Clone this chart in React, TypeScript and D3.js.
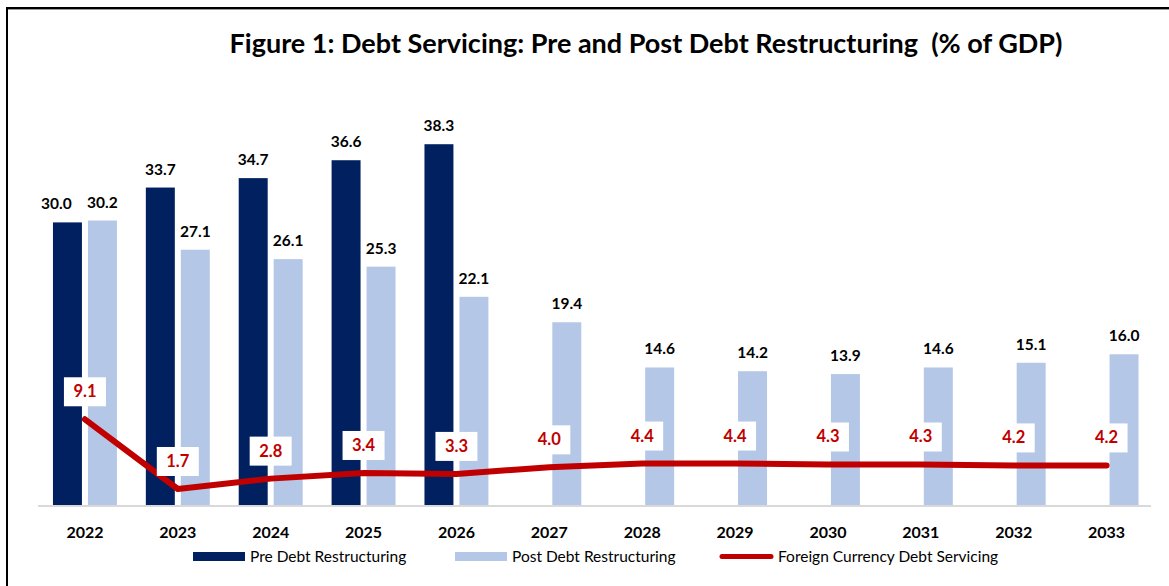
import React from 'react';
import * as d3 from 'd3';

const years = ['2022', '2023', '2024', '2025', '2026', '2027', '2028', '2029', '2030', '2031', '2032', '2033'];
const preValues: (number | null)[] = [30.0, 33.7, 34.7, 36.6, 38.3, null, null, null, null, null, null, null];
const postValues = [30.2, 27.1, 26.1, 25.3, 22.1, 19.4, 14.6, 14.2, 13.9, 14.6, 15.1, 16.0];
const fxValues = [9.1, 1.7, 2.8, 3.4, 3.3, 4.0, 4.4, 4.4, 4.3, 4.3, 4.2, 4.2];

const title = 'Figure 1: Debt Servicing: Pre and Post Debt Restructuring  (% of GDP)';
const seriesNames = ['Pre Debt Restructuring', 'Post Debt Restructuring', 'Foreign Currency Debt Servicing'];

const W = 1169;
const H = 586;
const PRE = '#002060';
const POST = '#B4C7E7';
const RED = '#C00000';
const FONT = 'Lato, "Open Sans", sans-serif';

export default function App() {
  const x = d3.scaleBand<string>().domain(years).range([38.5, 1153]).paddingInner(0).paddingOuter(0);
  const y = d3.scaleLinear().domain([0, 45]).range([505, 505 - 45 * 9.42]);
  const bw = x.bandwidth() * 0.312;
  const gap = 3;
  const cx = (yr: string) => (x(yr) as number) + x.bandwidth() / 2;

  const line = d3
    .line<number>()
    .x((_, i) => cx(years[i]))
    .y((d) => y(d));

  return (
    <svg width={W} height={H} style={{ position: 'absolute', left: 0, top: 0, background: '#fff' }} fontFamily={FONT}>
      <rect x={0} y={0} width={W} height={H} fill="#fff" />
      {/* frame */}
      <line x1={6} x2={W} y1={8} y2={8} stroke="#000" strokeWidth={2} />
      <line x1={6} x2={W} y1={9.5} y2={9.5} stroke="#999" strokeWidth={1} />
      <line x1={7} x2={7} y1={7} y2={H} stroke="#000" strokeWidth={2} />

      <text x={646} y={53} textAnchor="middle" fontSize={27} fontWeight={700} fill="#000" style={{ whiteSpace: 'pre' }}>
        {title}
      </text>

      {/* bars */}
      {years.map((yr, i) => {
        const c = cx(yr);
        const pre = preValues[i];
        const post = postValues[i];
        return (
          <g key={yr}>
            {pre != null && (
              <g>
                <rect x={c - gap - bw} y={y(pre)} width={bw} height={y(0) - y(pre)} fill={PRE} />
                <text
                  x={c - gap - bw / 2 + (i === 0 ? -11 : 0)}
                  y={y(pre) - 13}
                  textAnchor="middle"
                  fontSize={15.5}
                  fontWeight={700}
                  fill="#000"
                >
                  {pre.toFixed(1)}
                </text>
              </g>
            )}
            <rect x={c + gap} y={y(post)} width={bw} height={y(0) - y(post)} fill={POST} />
            <text x={c + gap + bw / 2} y={y(post) - 13} textAnchor="middle" fontSize={15.5} fontWeight={700} fill="#000">
              {post.toFixed(1)}
            </text>
          </g>
        );
      })}

      {/* axis */}
      <line x1={38} x2={1151} y1={y(0) + 1} y2={y(0) + 1} stroke="#D9D9D9" strokeWidth={2} />
      {years.map((yr) => (
        <text key={yr} x={cx(yr)} y={538} textAnchor="middle" fontSize={16} fontWeight={700} fill="#000">
          {yr}
        </text>
      ))}

      {/* line */}
      <path d={line(fxValues) || ''} fill="none" stroke={RED} strokeWidth={6} strokeLinecap="round" strokeLinejoin="round" />
      {fxValues.map((v, i) => {
        const c = cx(years[i]);
        const ly = y(v) - 28;
        return (
          <g key={i}>
            <rect x={c - 21} y={ly - 14} width={42} height={29} fill="#fff" />
            <text x={c} y={ly + 6} textAnchor="middle" fontSize={16.5} fontWeight={700} fill={RED}>
              {v.toFixed(1)}
            </text>
          </g>
        );
      })}

      {/* legend */}
      <rect x={193} y={552} width={52} height={9} fill={PRE} />
      <text x={250} y={562} fontSize={15.5} fill="#000">
        {seriesNames[0]}
      </text>
      <rect x={455} y={552} width={52} height={9} fill={POST} />
      <text x={512} y={562} fontSize={15.5} fill="#000">
        {seriesNames[1]}
      </text>
      <line x1={722} x2={771} y1={556.5} y2={556.5} stroke={RED} strokeWidth={5} strokeLinecap="round" />
      <text x={778} y={562} fontSize={15.5} fill="#000">
        {seriesNames[2]}
      </text>
    </svg>
  );
}
